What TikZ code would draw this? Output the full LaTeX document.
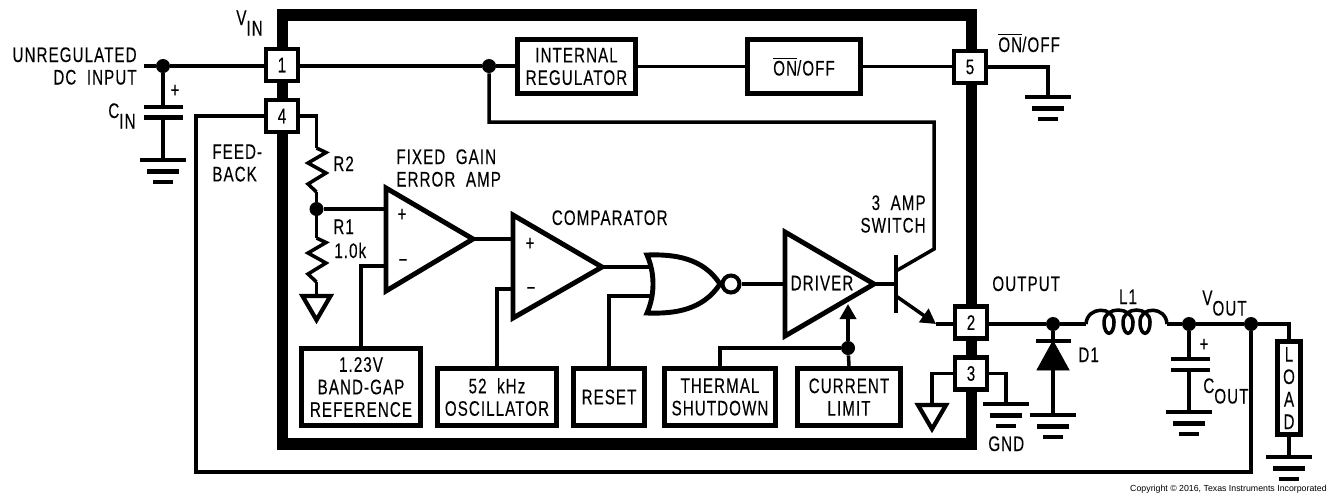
\documentclass[tikz,border=0pt]{standalone}
\usepackage{fontspec}
\setmainfont[FakeStretch=0.72,LetterSpace=5,FakeBold=0.15,WordSpace=2]{Liberation Sans}
\newfontfamily\notefont{Liberation Sans}
\usetikzlibrary{arrows.meta}
\tikzset{
    gndbars/.pic={
        \draw[bar] (-23,0) -- (23,0);
        \draw[bar] (-16,11.5) -- (16,11.5);
        \draw[bar] (-10,22) -- (10,22);
    },
    gndtri/.pic={
        \draw[line width=2.4pt,miter limit=10] (-14,0) -- (14,0) -- (0,24) -- cycle;
    },
    zigzag/.pic={
        \draw[wire] (0,0) -- (9.5,4.5) -- (-8.5,15) -- (9.5,25) -- (-8.5,36) -- (0,44);
    },
    bar/.style={line width=2.3pt},
    wire/.style={line width=2pt},
}
\begin{document}
\begin{tikzpicture}[x=0.02cm,y=-0.02cm,every node/.style={inner sep=0pt},font=\fontsize{12}{12.8}\selectfont]
    \tikzstyle{pin}=[draw,fill=white,line width=2.8pt,minimum size=0.64cm]
    \tikzstyle{block}=[draw,line width=2.8pt,align=center,minimum height=1.55cm]
    \tikzstyle{dot}=[circle,fill=black,minimum size=0.28cm]
    \tikzstyle{plate}=[line width=2.3pt]
    \tikzstyle{amp}=[line width=2.8pt]
    \tikzstyle{tip}=[-{Triangle[length=0.3cm,width=0.32cm]}]

    \useasboundingbox (0,0) rectangle (1334,495);
    \draw[line width=6.8pt] (282.5,15) rectangle (971.5,444);

    \node[pin] at (282,65) (pin1) {1};
    \node[pin] at (282,116) (pin4) {4};
    \node[pin] at (970,67) (pin5) {5};
    \node[pin] at (971,322.5) (pin2) {2};
    \node[pin] at (971,373.5) (pin3) {3};

    \node[block,minimum width=2.38cm,minimum height=1.55cm] at (361,387) (ref) {1.23V\\BAND-GAP\\REFERENCE};
    \node[block,minimum width=2.38cm,minimum height=1.15cm] at (497,397) (osc) {52 kHz\\OSCILLATOR};
    \node[block,minimum width=1.42cm,minimum height=1.15cm] at (609,397) (rst) {RESET};
    \node[block,minimum width=2.22cm,minimum height=1.15cm] at (720,397) (tsd) {THERMAL\\SHUTDOWN};
    \node[block,minimum width=2.06cm,minimum height=1.15cm] at (849,397) (ilim) {CURRENT\\LIMIT};
    \node[block,minimum width=2.36cm,minimum height=1.08cm] at (576.5,66.5) (reg) {INTERNAL\\REGULATOR};
    \node[block,minimum width=2.26cm,minimum height=1.08cm] at (804,66.5) (onoff) {$\overline{\mbox{ON}}$/OFF};
    \node[block,minimum width=0.46cm,minimum height=1.86cm] at (1289,388) (load) {\fontsize{12}{11.9}\selectfont L\\O\\A\\D};

    \node[dot] at (163,66) (dotin) {};
    \node[dot] at (489,66) (dotsw) {};
    \node[dot] at (316.5,209) (dotfb) {};
    \node[dot] at (848,348) (dotlim) {};
    \node[dot] at (1053,324) (dotd) {};
    \node[dot] at (1189,324) (dotc) {};
    \node[dot] at (1251,324) (dotv) {};

    \coordinate (input) at (144,66);
    \coordinate (c1top) at (163,107);
    \coordinate (c1bot) at (163,117.5);
    \coordinate (g1) at (163,160);
    \coordinate (c2top) at (1189,359);
    \coordinate (c2bot) at (1189,370);
    \coordinate (g2) at (1189,412);
    \coordinate (r2a) at (316.5,148);
    \coordinate (r2b) at (316.5,192);
    \coordinate (r1a) at (316.5,238);
    \coordinate (r1b) at (316.5,282);
    \coordinate (g3) at (316.5,296);
    \coordinate (g4) at (932,405);
    \coordinate (g5) at (1006,404);
    \coordinate (g6) at (1048,97);
    \coordinate (g7) at (1053,415);
    \coordinate (g8) at (1289,457);
    \coordinate (dk) at (1053,341);
    \coordinate (da) at (1053,370);
    \coordinate (l1a) at (1086,324);
    \coordinate (l1b) at (1167,324);
    \coordinate (fb) at (196,472);

    \coordinate (ea1) at (386,188);
    \coordinate (ea2) at (386,291);
    \coordinate (ea3) at (473,239);
    \coordinate (cmp1) at (513,215);
    \coordinate (cmp2) at (513,318);
    \coordinate (cmp3) at (602,267);
    \coordinate (drv1) at (785,232);
    \coordinate (drv2) at (785,336);
    \coordinate (drv3) at (874,284);
    \coordinate (nor) at (652,267);
    \coordinate (nor2) at (652,296);
    \coordinate (eam) at (386,266);
    \coordinate (cmpm) at (513,289);
    \coordinate (q1) at (896,255);
    \coordinate (q2) at (896,313);
    \coordinate (qc) at (896,271);
    \coordinate (qe) at (896,296);
    \coordinate (qc1) at (934,249);
    \coordinate (qc2) at (934,122);
    \coordinate (qe1) at (936,324);
    \coordinate (lim) at (848,304);

    \draw[amp] (ea1) -- (ea2) -- (ea3) -- cycle;
    \draw[amp] (cmp1) -- (cmp2) -- (cmp3) -- cycle;
    \draw[amp] (drv1) -- (drv2) -- (drv3) -- cycle;
    \draw[amp] (647,255) .. controls (675,254) and (703,258) .. (720,284) .. controls (703,310) and (675,314) .. (647,313) .. controls (655,295) and (655,273) .. (647,255) -- cycle;
    \node[circle,draw,line width=2.3pt,minimum size=0.34cm] at (731,284) (bub) {};
    \draw[amp] (q1) -- (q2);

    \draw[wire] (input) -- (dotin) -- (pin1.west |- dotin);
    \draw[wire] (dotin) -- (c1top);
    \draw[plate] (144,107) -- (183,107);
    \draw[plate] (144,117.5) -- (183,117.5);
    \draw[wire] (c1bot) -- (g1);
    \pic at (g1) {gndbars};

    \draw[wire] (pin1.east |- dotsw) -- (dotsw) -- (reg.west |- dotsw);
    \draw[wire] (reg) -- (onoff);
    \draw[wire] (onoff) -- (pin5.west |- onoff);
    \draw[wire] (pin5) -| (g6);
    \pic at (g6) {gndbars};
    \draw[wire] (dotsw) |- (qc2) -- (qc1) -- (qc);

    \draw[wire] (pin4) -| (r2a);
    \pic at (r2a) {zigzag};
    \draw[wire] (r2b) -- (dotfb) -- (r1a);
    \pic at (r1a) {zigzag};
    \draw[wire] (r1b) -- (g3);
    \pic at (g3) {gndtri};
    \draw[wire] (dotfb) -- (dotfb -| ea1);
    \draw[wire] (eam) -| (ref.north);

    \draw[wire] (pin4) -| (fb) -| (dotv);
    \draw[wire] (ea3) -- (ea3 -| cmp1);
    \draw[wire] (cmpm) -| (osc.north);
    \draw[wire] (cmp3) -- (nor);
    \draw[wire] (rst.north) |- (nor2);
    \draw[wire] (bub) -- (bub -| drv1);
    \draw[wire] (drv3) -- (drv3 -| q1);

    \draw[wire] (ilim.north) -- (dotlim);
    \draw[wire,tip] (dotlim) -- (lim);
    \draw[wire] (dotlim) -| (tsd.north);

    \draw[wire,tip] (qe) -- (qe1);
    \draw[wire] (qe1) -- (pin2.west |- qe1);
    \draw[wire] (pin3) -| (g4);
    \pic at (g4) {gndtri};
    \draw[wire] (pin3) -| (g5);
    \pic at (g5) {gndbars};

    \draw[wire] (pin2.east |- dotd) -- (dotd) -- (l1a);
    \draw[wire] (dotd) -- (dk);
    \draw[plate] (1036,341) -- (1071,341);
    \draw[fill=black,line width=0.5pt] (dk) -- (1037,370) -- (1069,370) -- cycle;
    \draw[wire] (da) -- (g7);
    \pic at (g7) {gndbars};

    \draw[wire] (l1a) .. controls (1087,306) and (1114,306) .. (1114,322) .. controls (1114,337) and (1104,337) .. (1104,322) .. controls (1104,306) and (1132,306) .. (1133,322) .. controls (1133,337) and (1123,337) .. (1123,322) .. controls (1123,306) and (1150,306) .. (1150,322) .. controls (1150,337) and (1140,337) .. (1140,322) .. controls (1140,306) and (1166,306) .. (l1b);
    \draw[wire] (l1b) -- (dotc) -- (dotv) -| (load.north);
    \draw[wire] (dotc) -- (c2top);
    \draw[plate] (1171,359) -- (1210,359);
    \draw[plate] (1171,370) -- (1210,370);
    \draw[wire] (c2bot) -- (g2);
    \pic at (g2) {gndbars};
    \draw[wire] (load.south) -- (g8);
    \pic at (g8) {gndbars};

    \node[anchor=east,align=right] at (137,66) (lin) {UNREGULATED\\DC INPUT};
    \node[anchor=base west] at (236,25) (lvin) {V\raisebox{-0.21cm}{IN}};
    \node[anchor=base west] at (108,118) (lcin) {C\raisebox{-0.21cm}{IN}};
    \node at (175,91) (lp1) {+};
    \node[anchor=west,align=left] at (212,163) (lfb) {FEED-\\BACK};
    \node[anchor=base west] at (333,171) (lr2) {R2};
    \node[anchor=base west] at (333,234) (lr1) {R1};
    \node[anchor=base west] at (334,258) (lr1v) {1.0k};
    \node[anchor=west,align=left] at (396,168) (lea) {FIXED GAIN\\ERROR AMP};
    \node at (402,215) (lep) {+};
    \node at (403,263) (lem) {\textminus};
    \node at (530,244) (lcp) {+};
    \node at (531,291) (lcm) {\textminus};
    \node[anchor=base west] at (551.5,225) (lcmp) {COMPARATOR};
    \node at (822,283) (ldrv) {DRIVER};
    \node[anchor=east,align=right] at (926,214) (lsw) {3 AMP\\SWITCH};
    \node[anchor=base west] at (998,52) (lon) {$\overline{\mbox{ON}}$/OFF};
    \node[anchor=base west] at (992,291) (lout) {OUTPUT};
    \node[anchor=base] at (1128,304) (ll1) {L1};
    \node[anchor=base west] at (1202,305) (lvout) {V\raisebox{-0.21cm}{OUT}};
    \node[anchor=base west] at (1078,362) (ld1) {D1};
    \node at (1204,345) (lp2) {+};
    \node[anchor=base west] at (1203,393) (lcout) {C\raisebox{-0.21cm}{OUT}};
    \node[anchor=base west] at (988,451) (lgnd) {GND};
    \node[anchor=east] at (1327,489) (lcopy) {\notefont\fontsize{5}{6}\selectfont Copyright \textcopyright{} 2016, Texas Instruments Incorporated};
\end{tikzpicture}
\end{document}
